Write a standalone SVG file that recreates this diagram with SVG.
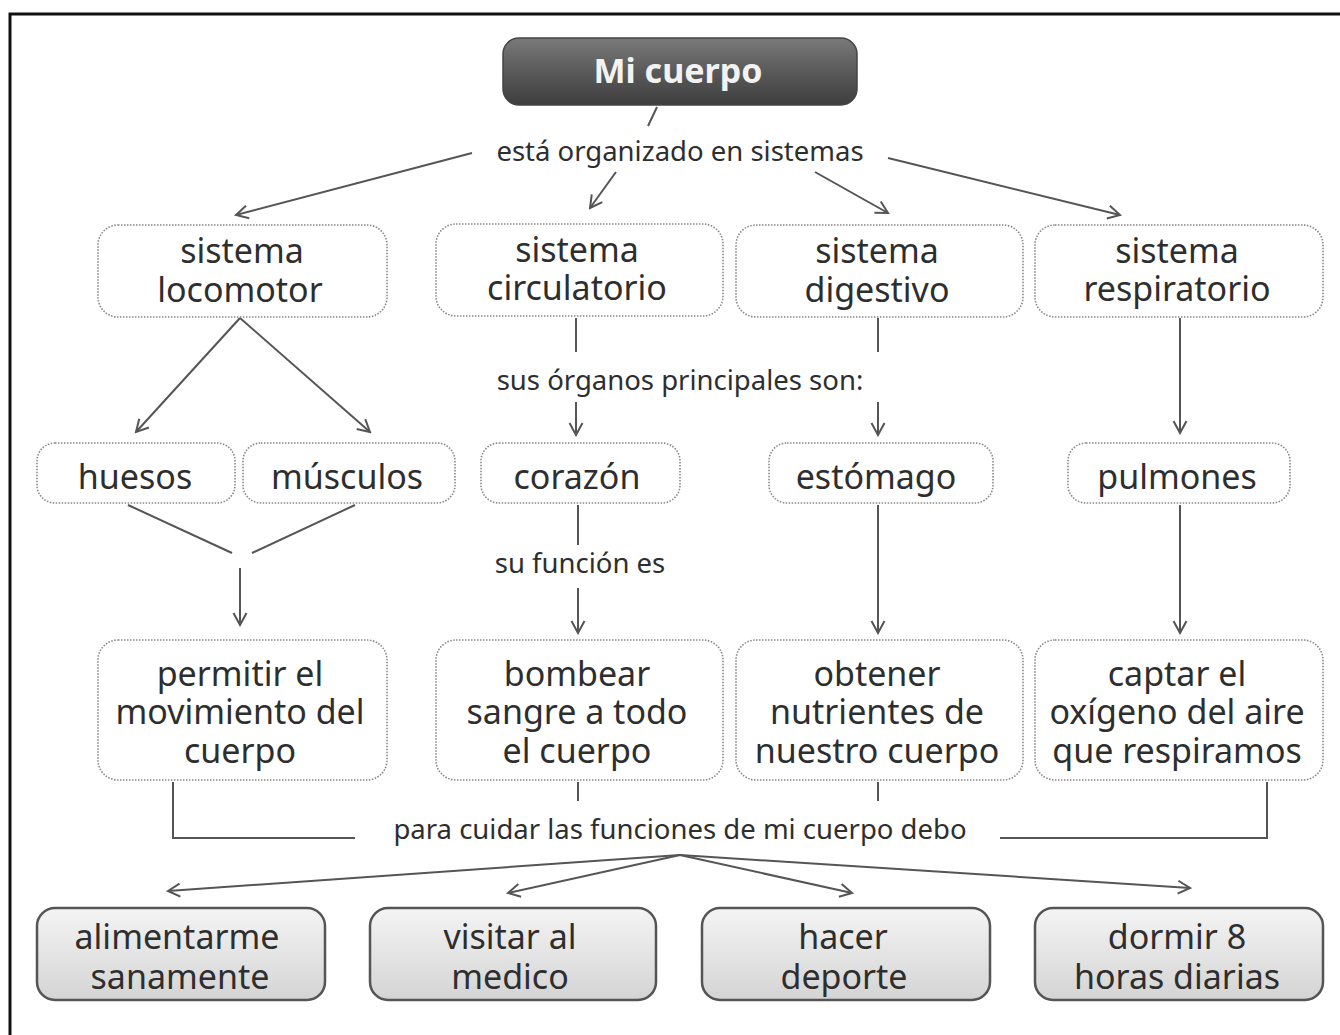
<svg xmlns="http://www.w3.org/2000/svg" width="1340" height="1035" viewBox="0 0 1340 1035">
<defs>
<linearGradient id="gTop" x1="0" y1="0" x2="0" y2="1">
<stop offset="0" stop-color="#7a7a7a"/>
<stop offset="0.5" stop-color="#5a5a5a"/>
<stop offset="1" stop-color="#3e3e3e"/>
</linearGradient>
<linearGradient id="gBot" x1="0" y1="0" x2="0" y2="1">
<stop offset="0" stop-color="#f4f4f4"/>
<stop offset="1" stop-color="#d4d4d4"/>
</linearGradient>
<marker id="arr" viewBox="0 0 16 16" refX="14" refY="8" markerWidth="16" markerHeight="16" orient="auto" markerUnits="userSpaceOnUse">
<path d="M2,1.5 L14,8 L2,14.5" fill="none" stroke="#555" stroke-width="2"/>
</marker>
</defs>
<style>
.t{font-family:"Noto Sans","Open Sans",sans-serif;fill:#2e2e2e;text-anchor:middle}
.n{font-size:34px}
.l{font-size:27.5px}
.dot{fill:#fff;stroke:#888;stroke-width:1.6;stroke-dasharray:1.5 1.5}
.bot{fill:url(#gBot);stroke:#555;stroke-width:2.5}
.c{fill:none;stroke:#555;stroke-width:2}
.a{fill:none;stroke:#555;stroke-width:2;marker-end:url(#arr)}
</style>
<rect x="10" y="14" width="1340" height="1040" fill="#fff" stroke="#111" stroke-width="3"/>

<g id="connectors">
<line class="c" x1="657" y1="107" x2="648" y2="126"/>
<line class="a" x1="472" y1="153" x2="236" y2="215"/>
<line class="a" x1="616" y1="172" x2="590" y2="208"/>
<line class="a" x1="815" y1="172" x2="888" y2="213"/>
<line class="a" x1="888" y1="158" x2="1120" y2="215"/>
<line class="a" x1="240" y1="318" x2="136" y2="432"/>
<line class="a" x1="240" y1="318" x2="370" y2="432"/>
<line class="c" x1="576" y1="318" x2="576" y2="352"/>
<line class="a" x1="576" y1="402" x2="576" y2="435"/>
<line class="c" x1="878" y1="318" x2="878" y2="352"/>
<line class="a" x1="878" y1="402" x2="878" y2="435"/>
<line class="a" x1="1180" y1="318" x2="1180" y2="433"/>
<line class="c" x1="128" y1="505" x2="232" y2="553"/>
<line class="c" x1="355" y1="505" x2="252" y2="553"/>
<line class="a" x1="240" y1="568" x2="240" y2="625"/>
<line class="c" x1="578" y1="505" x2="578" y2="545"/>
<line class="a" x1="578" y1="588" x2="578" y2="633"/>
<line class="a" x1="878" y1="505" x2="878" y2="633"/>
<line class="a" x1="1180" y1="505" x2="1180" y2="633"/>
<polyline class="c" points="173,782 173,838 355,838"/>
<line class="c" x1="578" y1="782" x2="578" y2="801"/>
<line class="c" x1="878" y1="782" x2="878" y2="801"/>
<polyline class="c" points="1267,782 1267,838 1000,838"/>
<line class="a" x1="680" y1="855" x2="168" y2="891"/>
<line class="a" x1="680" y1="855" x2="508" y2="893"/>
<line class="a" x1="680" y1="855" x2="852" y2="893"/>
<line class="a" x1="680" y1="855" x2="1190" y2="888"/>
</g>

<g id="lbl-organizado"><text class="t l" x="680" y="161">está organizado en sistemas</text></g>
<g id="lbl-organos"><text class="t l" x="680" y="390">sus órganos principales son:</text></g>
<g id="lbl-funcion"><text class="t l" x="580" y="573">su función es</text></g>
<g id="lbl-cuidar"><text class="t l" x="680" y="839">para cuidar las funciones de mi cuerpo debo</text></g>

<g id="n-cuerpo">
<rect x="503" y="38" width="354" height="67" rx="16" fill="url(#gTop)" stroke="#444" stroke-width="1.5"/>
<text class="t" x="678" y="83" style="fill:#f2f2f2;font-size:34px;font-weight:bold">Mi cuerpo</text>
</g>

<g id="n-locomotor">
<rect class="dot" x="98" y="225" width="289" height="92" rx="20"/>
<text class="t n"><tspan x="242" y="263">sistema</tspan><tspan x="240" y="302">locomotor</tspan></text>
</g>
<g id="n-circulatorio">
<rect class="dot" x="436" y="224" width="287" height="92" rx="20"/>
<text class="t n"><tspan x="577" y="262">sistema</tspan><tspan x="577" y="300">circulatorio</tspan></text>
</g>
<g id="n-digestivo">
<rect class="dot" x="736" y="225" width="287" height="92" rx="20"/>
<text class="t n"><tspan x="877" y="263">sistema</tspan><tspan x="877" y="302">digestivo</tspan></text>
</g>
<g id="n-respiratorio">
<rect class="dot" x="1035" y="225" width="288" height="92" rx="20"/>
<text class="t n"><tspan x="1177" y="263">sistema</tspan><tspan x="1177" y="301">respiratorio</tspan></text>
</g>

<g id="n-huesos">
<rect class="dot" x="37" y="443" width="198" height="60" rx="18"/>
<text class="t n" x="135" y="489">huesos</text>
</g>
<g id="n-musculos">
<rect class="dot" x="243" y="443" width="212" height="60" rx="18"/>
<text class="t n" x="347" y="489">músculos</text>
</g>
<g id="n-corazon">
<rect class="dot" x="481" y="443" width="199" height="60" rx="18"/>
<text class="t n" x="577" y="489">corazón</text>
</g>
<g id="n-estomago">
<rect class="dot" x="769" y="443" width="224" height="60" rx="18"/>
<text class="t n" x="876" y="489">estómago</text>
</g>
<g id="n-pulmones">
<rect class="dot" x="1068" y="443" width="222" height="60" rx="18"/>
<text class="t n" x="1177" y="489">pulmones</text>
</g>

<g id="n-permitir">
<rect class="dot" x="98" y="640" width="289" height="140" rx="20"/>
<text class="t n"><tspan x="240" y="686">permitir el</tspan><tspan x="240" y="724">movimiento del</tspan><tspan x="240" y="763">cuerpo</tspan></text>
</g>
<g id="n-bombear">
<rect class="dot" x="436" y="640" width="287" height="140" rx="20"/>
<text class="t n"><tspan x="577" y="686">bombear</tspan><tspan x="577" y="724">sangre a todo</tspan><tspan x="577" y="763">el cuerpo</tspan></text>
</g>
<g id="n-obtener">
<rect class="dot" x="736" y="640" width="287" height="140" rx="20"/>
<text class="t n"><tspan x="877" y="686">obtener</tspan><tspan x="877" y="724">nutrientes de</tspan><tspan x="877" y="763">nuestro cuerpo</tspan></text>
</g>
<g id="n-captar">
<rect class="dot" x="1035" y="640" width="288" height="140" rx="20"/>
<text class="t n"><tspan x="1177" y="686">captar el</tspan><tspan x="1177" y="724">oxígeno del aire</tspan><tspan x="1177" y="763">que respiramos</tspan></text>
</g>

<g id="n-alimentarme">
<rect class="bot" x="37" y="908" width="288" height="92" rx="18"/>
<text class="t n"><tspan x="177" y="949">alimentarme</tspan><tspan x="180" y="989">sanamente</tspan></text>
</g>
<g id="n-visitar">
<rect class="bot" x="370" y="908" width="286" height="92" rx="18"/>
<text class="t n"><tspan x="510" y="949">visitar al</tspan><tspan x="510" y="989">medico</tspan></text>
</g>
<g id="n-hacer">
<rect class="bot" x="702" y="908" width="288" height="92" rx="18"/>
<text class="t n"><tspan x="843" y="949">hacer</tspan><tspan x="844" y="989">deporte</tspan></text>
</g>
<g id="n-dormir">
<rect class="bot" x="1035" y="908" width="288" height="92" rx="18"/>
<text class="t n"><tspan x="1177" y="949">dormir 8</tspan><tspan x="1177" y="989">horas diarias</tspan></text>
</g>
</svg>
